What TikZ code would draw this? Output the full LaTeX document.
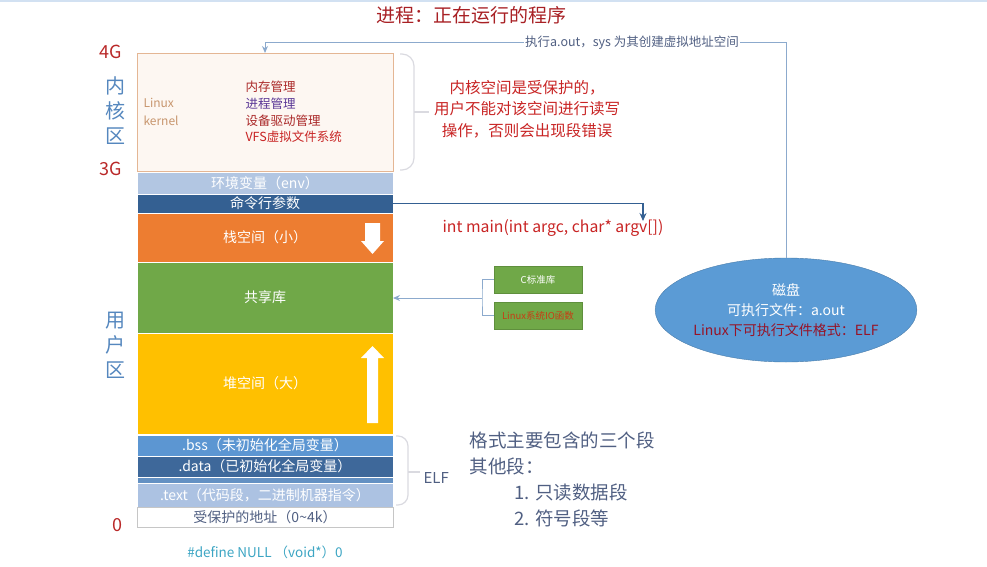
\documentclass[tikz,border=0pt]{standalone}
\usepackage{fontspec}
\setmainfont{Noto Sans CJK SC}
\usepackage{tikz}
\usetikzlibrary{shapes.geometric,arrows.meta,calc}

\definecolor{titlered}{RGB}{168,32,36}
\definecolor{addrred}{RGB}{185,40,40}
\definecolor{zoneblue}{RGB}{85,135,190}
\definecolor{kernfill}{RGB}{253,247,242}
\definecolor{kerndraw}{RGB}{228,182,148}
\definecolor{kerntan}{RGB}{200,150,110}
\definecolor{kernred}{RGB}{170,40,40}
\definecolor{kernpurple}{RGB}{90,55,150}
\definecolor{envblue}{RGB}{178,198,226}
\definecolor{cmdblue}{RGB}{52,96,146}
\definecolor{stackorange}{RGB}{237,125,49}
\definecolor{libgreen}{RGB}{112,168,72}
\definecolor{heapgold}{RGB}{255,192,0}
\definecolor{bssblue}{RGB}{92,150,210}
\definecolor{datablue}{RGB}{62,104,154}
\definecolor{stripeblue}{RGB}{100,145,195}
\definecolor{textblue}{RGB}{172,194,226}
\definecolor{linkblue}{RGB}{140,170,205}
\definecolor{notered}{RGB}{200,36,36}
\definecolor{iored}{RGB}{200,60,20}
\definecolor{bracegray}{RGB}{218,218,224}
\definecolor{elfgray}{RGB}{80,95,130}
\definecolor{diskblue}{RGB}{91,155,213}
\definecolor{diskred}{RGB}{150,20,40}
\definecolor{nullteal}{RGB}{60,165,195}
\definecolor{topbar}{RGB}{210,225,242}

\begin{document}
\begin{tikzpicture}[x=1pt,y=-1pt,
  seg/.style={minimum width=256pt,inner sep=0pt,outer sep=0pt,text=white,
    draw=white,line width=0.6pt,font=\fontsize{14}{16}\selectfont},
  addr/.style={text=addrred,font=\fontsize{18}{20}\selectfont},
  zone/.style={text=zoneblue,align=center,font=\fontsize{20}{25}\selectfont},
  brace/.style={draw=bracegray,line width=1.2pt},
  libbox/.style={fill=libgreen,draw=libgreen!85!black,minimum width=88pt,
    minimum height=27pt,inner sep=0pt,text=white,font=\fontsize{9.5}{11}\selectfont},
  liblink/.style={draw=linkblue,line width=1pt},
  toplink/.style={draw=linkblue,line width=1pt,-{Stealth[length=7pt,width=6pt]}},
  cmdlink/.style={draw=cmdblue,line width=1.2pt,-{Stealth[length=8pt,width=7pt]}}]
  \useasboundingbox (0,0) rectangle (987,567);
  \fill[topbar] (0,0) rectangle (987,2);

  \node[text=titlered,font=\fontsize{19}{21}\selectfont] (title) at (471,15) {进程：正在运行的程序};

  \node[addr] (g4) at (111,52) {4G};
  \node[addr] (g3) at (111,169) {3G};
  \node[addr] (g0) at (117,525) {0};
  \node[zone] (kzone) at (115,111) {内\\核\\区};
  \node[zone] (uzone) at (115,345) {用\\户\\区};

  \node[seg,fill=kernfill,draw=kerndraw,minimum height=118pt] (kernel) at (265,112) {};
  \node[seg,fill=envblue,minimum height=22pt] (env) at (265,183) {环境变量（env）};
  \node[seg,fill=cmdblue,minimum height=19pt] (cmd) at (265,203.5) {命令行参数};
  \node[seg,fill=stackorange,minimum height=49pt] (stack) at (265,237.5) {栈空间（小）};
  \node[seg,fill=libgreen,minimum height=71pt] (shlib) at (265,297.5) {共享库};
  \node[seg,fill=heapgold,minimum height=101pt] (heap) at (265,383.5) {堆空间（大）};
  \node[seg,fill=bssblue,minimum height=21pt] (bss) at (265,445.5) {.bss（未初始化全局变量）};
  \node[seg,fill=datablue,minimum height=21pt] (data) at (265,466.5) {.data（已初始化全局变量）};
  \node[seg,fill=stripeblue,minimum height=6pt] (stripe) at (265,480) {};
  \node[seg,fill=textblue,minimum height=24pt] (textseg) at (265,495) {.text（代码段，二进制机器指令）};
  \node[seg,fill=white,draw=gray!45,text=elfgray,minimum height=20pt] (guard) at (265,517) {受保护的地址（0\textasciitilde4k）};

  \node[anchor=west,text=kerntan,align=left,font=\fontsize{12}{18}\selectfont] (linux) at (140,112) {Linux\\kernel};
  \node[anchor=west,align=left,font=\fontsize{12.5}{16.7}\selectfont] (kernlist) at (242,112)
    {\textcolor{kernred}{内存管理}\\\textcolor{kernpurple}{进程管理}\\\textcolor{kernred}{设备驱动管理}\\\textcolor{notered}{VFS虚拟文件系统}};

  \fill[white] (365,223) -- (380,223) -- (380,241) -- (384,241) -- (372.5,254) -- (361,241) -- (365,241) -- cycle;
  \fill[white] (367,423) -- (378,423) -- (378,358) -- (384,358) -- (372.5,346) -- (361,358) -- (367,358) -- cycle;

  \draw[brace,rounded corners=12pt] (400,54) -- (414,54) -- (414,170) -- (400,170);
  \draw[brace] (414,112) -- (429,112);
  \draw[brace,rounded corners=10pt] (396,436) -- (408,436) -- (408,505) -- (396,505);
  \draw[brace] (408,472) -- (420,472);
  \node[anchor=west,text=elfgray,font=\fontsize{15}{17}\selectfont] (elf) at (420,478) {ELF};

  \node[text=notered,align=center,font=\fontsize{15.5}{21.5}\selectfont] (kernnote) at (527,109)
    {内核空间是受保护的，\\用户不能对该空间进行读写\\操作，否则会出现段错误};

  \node[anchor=west,text=notered,font=\fontsize{15.8}{18}\selectfont] (mainsig) at (439,228) {int main(int argc, char* argv[])};
  \coordinate (argvtop) at (643,221);
  \draw[cmdlink] (cmd.east) -| (argvtop);

  \node[libbox] (clib) at (538,279.5) {C标准库};
  \node[libbox,text=iored] (linuxio) at (538,315.5) {Linux系统IO函数};
  \coordinate (libjoin) at (482,298);
  \draw[liblink] (clib.west) -| (libjoin) |- (linuxio.west);
  \draw[liblink,-{Stealth[length=7pt,width=6pt]}] (libjoin) -- (shlib.east |- libjoin);

  \node[ellipse,fill=diskblue,draw=diskblue!80!black,minimum width=232pt,minimum height=104pt,
    inner sep=0pt,align=center,text=white,font=\fontsize{14}{20}\selectfont] (disk) at (786,310)
    {磁盘\\可执行文件：a.out\\\textcolor{diskred}{Linux下可执行文件格式：ELF}};
  \draw[toplink] (disk.north) |- ($(kernel.north)+(0,-10)$) -- (kernel.north);
  \node[fill=white,text=elfgray,inner sep=1.5pt,font=\fontsize{12.5}{14}\selectfont] (execlbl) at (632,43)
    {执行a.out，sys 为其创建虚拟地址空间};

  \node[anchor=west,text=elfgray,align=left,font=\fontsize{18.5}{26}\selectfont] (elfnote) at (466,479)
    {格式主要包含的三个段\\其他段：\\\hspace*{45pt}1. 只读数据段\\\hspace*{45pt}2. 符号段等};

  \node[text=nullteal,font=\fontsize{13.5}{15}\selectfont] (nulldef) at (265,552) {\#define NULL （void*）0};
\end{tikzpicture}
\end{document}
